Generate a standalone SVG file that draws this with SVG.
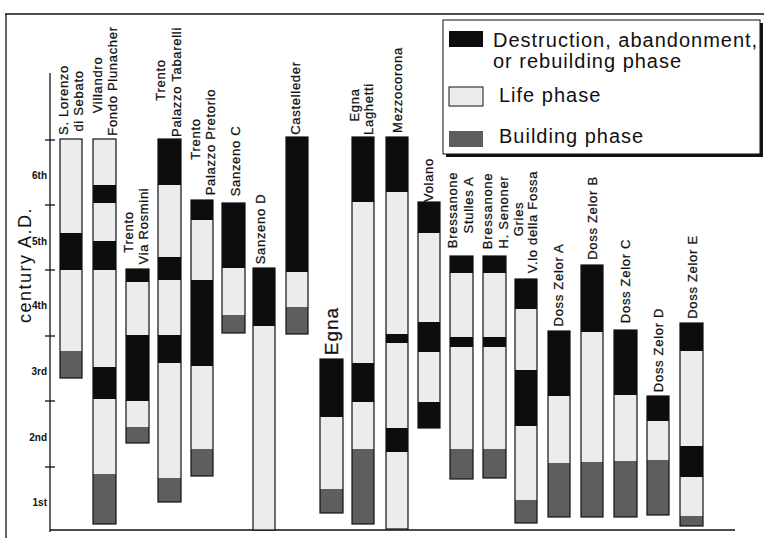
<svg xmlns="http://www.w3.org/2000/svg" width="766" height="538" viewBox="0 0 766 538">
<style>
.bk{fill:#0d0d0d}
.lf{fill:#ececec}
.bd{fill:#5e5e5e}
.ol{fill:none;stroke:#111;stroke-width:1.2}
.ax{stroke:#111;stroke-width:1.3;fill:none}
.lb{font-family:"Liberation Sans",Arial,sans-serif;font-size:13px;letter-spacing:0.7px;fill:#111;stroke:#111;stroke-width:0.25;text-anchor:middle}
.cy{font-family:"Liberation Sans",Arial,sans-serif;font-size:10px;font-weight:bold;fill:#111;text-anchor:end}
.lg{font-family:"Liberation Sans",Arial,sans-serif;font-size:20px;letter-spacing:1px;fill:#111}
</style>
<rect width="766" height="538" fill="#fff"/>
<g id="frame" class="ax">
<line x1="5" y1="14" x2="764" y2="14"/>
<line x1="6" y1="14" x2="6" y2="538"/>
</g>
<g id="axis">
<g class="ax">
<line x1="50" y1="73" x2="50" y2="532"/>
<line x1="50" y1="530" x2="735" y2="530"/>
<line x1="45" y1="140" x2="55" y2="140"/>
<line x1="45" y1="205" x2="55" y2="205"/>
<line x1="45" y1="270" x2="55" y2="270"/>
<line x1="45" y1="336" x2="55" y2="336"/>
<line x1="45" y1="401" x2="55" y2="401"/>
<line x1="45" y1="467" x2="55" y2="467"/>
</g>
<text class="cy" x="47" y="179">6th</text>
<text class="cy" x="47" y="245">5th</text>
<text class="cy" x="47" y="309">4th</text>
<text class="cy" x="47" y="375">3rd</text>
<text class="cy" x="47" y="441">2nd</text>
<text class="cy" x="47" y="506">1st</text>
<text transform="translate(31,265) rotate(-90)" font-family="Liberation Sans,Arial,sans-serif" font-size="18" letter-spacing="1.5" text-anchor="middle" fill="#111">century A.D.</text>
</g>
<g id="legend">
<rect x="446" y="23" width="317" height="134" fill="#111"/>
<rect x="443" y="20" width="317" height="134" fill="#fff" stroke="#111" stroke-width="1"/>
<rect class="bk" x="449" y="31" width="34" height="16"/>
<rect class="lf" x="449" y="87" width="34" height="19" stroke="#111" stroke-width="1"/>
<rect class="bd" x="449" y="131" width="34" height="16"/>
<text class="lg" x="493" y="47">Destruction, abandonment,</text>
<text class="lg" x="493" y="68">or rebuilding phase</text>
<text class="lg" x="499" y="102">Life phase</text>
<text class="lg" x="499" y="143">Building phase</text>
</g>
<g id="col-s-lorenzo">
<rect class="lf" x="60" y="139" width="22" height="94"/><rect class="bk" x="60" y="233" width="22" height="37"/><rect class="lf" x="60" y="270" width="22" height="81"/><rect class="bd" x="60" y="351" width="22" height="27"/>
<rect class="ol" x="60" y="139" width="22" height="239"/>
<text class="lb" transform="translate(68,100) rotate(-90)">S. Lorenzo</text>
<text class="lb" transform="translate(83,101) rotate(-90)">di Sebato</text>
</g>
<g id="col-villandro">
<rect class="lf" x="93" y="139" width="23" height="46"/><rect class="bk" x="93" y="185" width="23" height="18"/><rect class="lf" x="93" y="203" width="23" height="38"/><rect class="bk" x="93" y="241" width="23" height="29"/><rect class="lf" x="93" y="270" width="23" height="97"/><rect class="bk" x="93" y="367" width="23" height="32"/><rect class="lf" x="93" y="399" width="23" height="75"/><rect class="bd" x="93" y="474" width="23" height="50"/>
<rect class="ol" x="93" y="139" width="23" height="385"/>
<text class="lb" transform="translate(102,85) rotate(-90)">Villandro</text>
<text class="lb" transform="translate(117,81) rotate(-90)">Fondo Plunacher</text>
</g>
<g id="col-trento-rosmini">
<rect class="bk" x="126" y="269" width="23" height="13"/><rect class="lf" x="126" y="282" width="23" height="53"/><rect class="bk" x="126" y="335" width="23" height="66"/><rect class="lf" x="126" y="401" width="23" height="26"/><rect class="bd" x="126" y="427" width="23" height="16"/>
<rect class="ol" x="126" y="269" width="23" height="174"/>
<text class="lb" transform="translate(133,232) rotate(-90)">Trento</text>
<text class="lb" transform="translate(148,226) rotate(-90)">Via Rosmini</text>
</g>
<g id="col-trento-tabarelli">
<rect class="bk" x="158" y="139" width="23" height="46"/><rect class="lf" x="158" y="185" width="23" height="72"/><rect class="bk" x="158" y="257" width="23" height="23"/><rect class="lf" x="158" y="280" width="23" height="55"/><rect class="bk" x="158" y="335" width="23" height="28"/><rect class="lf" x="158" y="363" width="23" height="115"/><rect class="bd" x="158" y="478" width="23" height="24"/>
<rect class="ol" x="158" y="139" width="23" height="363"/>
<text class="lb" transform="translate(165,80) rotate(-90)">Trento</text>
<text class="lb" transform="translate(181,82) rotate(-90)">Palazzo Tabarelli</text>
</g>
<g id="col-trento-pretorio">
<rect class="bk" x="191" y="200" width="22" height="20"/><rect class="lf" x="191" y="220" width="22" height="60"/><rect class="bk" x="191" y="280" width="22" height="86"/><rect class="lf" x="191" y="366" width="22" height="83"/><rect class="bd" x="191" y="449" width="22" height="27"/>
<rect class="ol" x="191" y="200" width="22" height="276"/>
<text class="lb" transform="translate(200,139) rotate(-90)">Trento</text>
<text class="lb" transform="translate(215,142) rotate(-90)">Palazzo Pretorio</text>
</g>
<g id="col-sanzeno-c">
<rect class="bk" x="222" y="203" width="23" height="65"/><rect class="lf" x="222" y="268" width="23" height="47"/><rect class="bd" x="222" y="315" width="23" height="18"/>
<rect class="ol" x="222" y="203" width="23" height="130"/>
<text class="lb" transform="translate(240,161) rotate(-90)">Sanzeno C</text>
</g>
<g id="col-sanzeno-d">
<rect class="bk" x="253" y="268" width="22" height="58"/><rect class="lf" x="253" y="326" width="22" height="204"/>
<rect class="ol" x="253" y="268" width="22" height="262"/>
<text class="lb" transform="translate(265,229) rotate(-90)">Sanzeno D</text>
</g>
<g id="col-castelleder">
<rect class="bk" x="286" y="137" width="22" height="135"/><rect class="lf" x="286" y="272" width="22" height="35"/><rect class="bd" x="286" y="307" width="22" height="27"/>
<rect class="ol" x="286" y="137" width="22" height="197"/>
<text class="lb" transform="translate(300,98) rotate(-90)">Castelleder</text>
</g>
<g id="col-egna">
<rect class="bk" x="320" y="359" width="23" height="58"/><rect class="lf" x="320" y="417" width="23" height="72"/><rect class="bd" x="320" y="489" width="23" height="24"/>
<rect class="ol" x="320" y="359" width="23" height="154"/>
<text class="lb" style="font-size:19px;letter-spacing:1px" transform="translate(338,331) rotate(-90)">Egna</text>
</g>
<g id="col-egna-laghetti">
<rect class="bk" x="352" y="137" width="22" height="65"/><rect class="lf" x="352" y="202" width="22" height="161"/><rect class="bk" x="352" y="363" width="22" height="39"/><rect class="lf" x="352" y="402" width="22" height="47"/><rect class="bd" x="352" y="449" width="22" height="75"/>
<rect class="ol" x="352" y="137" width="22" height="387"/>
<text class="lb" transform="translate(359,105) rotate(-90)">Egna</text>
<text class="lb" transform="translate(373,109) rotate(-90)">Laghetti</text>
</g>
<g id="col-mezzocorona">
<rect class="bk" x="386" y="137" width="22" height="55"/><rect class="lf" x="386" y="192" width="22" height="142"/><rect class="bk" x="386" y="334" width="22" height="9"/><rect class="lf" x="386" y="343" width="22" height="85"/><rect class="bk" x="386" y="428" width="22" height="24"/><rect class="lf" x="386" y="452" width="22" height="77"/>
<rect class="ol" x="386" y="137" width="22" height="392"/>
<text class="lb" transform="translate(402,90) rotate(-90)">Mezzocorona</text>
</g>
<g id="col-volano">
<rect class="bk" x="418" y="202" width="22" height="31"/><rect class="lf" x="418" y="233" width="22" height="89"/><rect class="bk" x="418" y="322" width="22" height="30"/><rect class="lf" x="418" y="352" width="22" height="50"/><rect class="bk" x="418" y="402" width="22" height="26"/>
<rect class="ol" x="418" y="202" width="22" height="226"/>
<text class="lb" transform="translate(433,180) rotate(-90)">Volano</text>
</g>
<g id="col-bressanone-stulles">
<rect class="bk" x="450" y="256" width="23" height="17"/><rect class="lf" x="450" y="273" width="23" height="64"/><rect class="bk" x="450" y="337" width="23" height="10"/><rect class="lf" x="450" y="347" width="23" height="102"/><rect class="bd" x="450" y="449" width="23" height="30"/>
<rect class="ol" x="450" y="256" width="23" height="223"/>
<text class="lb" transform="translate(457,210) rotate(-90)">Bressanone</text>
<text class="lb" transform="translate(473,205) rotate(-90)">Stulles A</text>
</g>
<g id="col-bressanone-senoner">
<rect class="bk" x="483" y="256" width="23" height="17"/><rect class="lf" x="483" y="273" width="23" height="64"/><rect class="bk" x="483" y="337" width="23" height="10"/><rect class="lf" x="483" y="347" width="23" height="102"/><rect class="bd" x="483" y="449" width="23" height="29"/>
<rect class="ol" x="483" y="256" width="23" height="222"/>
<text class="lb" transform="translate(492,211) rotate(-90)">Bressanone</text>
<text class="lb" transform="translate(508,212) rotate(-90)">H. Senoner</text>
</g>
<g id="col-gries">
<rect class="bk" x="515" y="279" width="22" height="30"/><rect class="lf" x="515" y="309" width="22" height="61"/><rect class="bk" x="515" y="370" width="22" height="56"/><rect class="lf" x="515" y="426" width="22" height="74"/><rect class="bd" x="515" y="500" width="22" height="23"/>
<rect class="ol" x="515" y="279" width="22" height="244"/>
<text class="lb" transform="translate(523,219) rotate(-90)">Gries</text>
<text class="lb" transform="translate(537,222) rotate(-90)">V.lo della Fossa</text>
</g>
<g id="col-doss-zelor-a">
<rect class="bk" x="548" y="331" width="22" height="65"/><rect class="lf" x="548" y="396" width="22" height="67"/><rect class="bd" x="548" y="463" width="22" height="54"/>
<rect class="ol" x="548" y="331" width="22" height="186"/>
<text class="lb" transform="translate(563,285) rotate(-90)">Doss Zelor A</text>
</g>
<g id="col-doss-zelor-b">
<rect class="bk" x="581" y="265" width="22" height="67"/><rect class="lf" x="581" y="332" width="22" height="130"/><rect class="bd" x="581" y="462" width="22" height="55"/>
<rect class="ol" x="581" y="265" width="22" height="252"/>
<text class="lb" transform="translate(597,218) rotate(-90)">Doss Zelor B</text>
</g>
<g id="col-doss-zelor-c">
<rect class="bk" x="614" y="330" width="23" height="65"/><rect class="lf" x="614" y="395" width="23" height="66"/><rect class="bd" x="614" y="461" width="23" height="56"/>
<rect class="ol" x="614" y="330" width="23" height="187"/>
<text class="lb" transform="translate(630,281) rotate(-90)">Doss Zelor C</text>
</g>
<g id="col-doss-zelor-d">
<rect class="bk" x="647" y="396" width="22" height="25"/><rect class="lf" x="647" y="421" width="22" height="39"/><rect class="bd" x="647" y="460" width="22" height="55"/>
<rect class="ol" x="647" y="396" width="22" height="119"/>
<text class="lb" transform="translate(663,350) rotate(-90)">Doss Zelor D</text>
</g>
<g id="col-doss-zelor-e">
<rect class="bk" x="680" y="323" width="23" height="28"/><rect class="lf" x="680" y="351" width="23" height="95"/><rect class="bk" x="680" y="446" width="23" height="31"/><rect class="lf" x="680" y="477" width="23" height="39"/><rect class="bd" x="680" y="516" width="23" height="10"/>
<rect class="ol" x="680" y="323" width="23" height="203"/>
<text class="lb" transform="translate(697,277) rotate(-90)">Doss Zelor E</text>
</g>
</svg>
